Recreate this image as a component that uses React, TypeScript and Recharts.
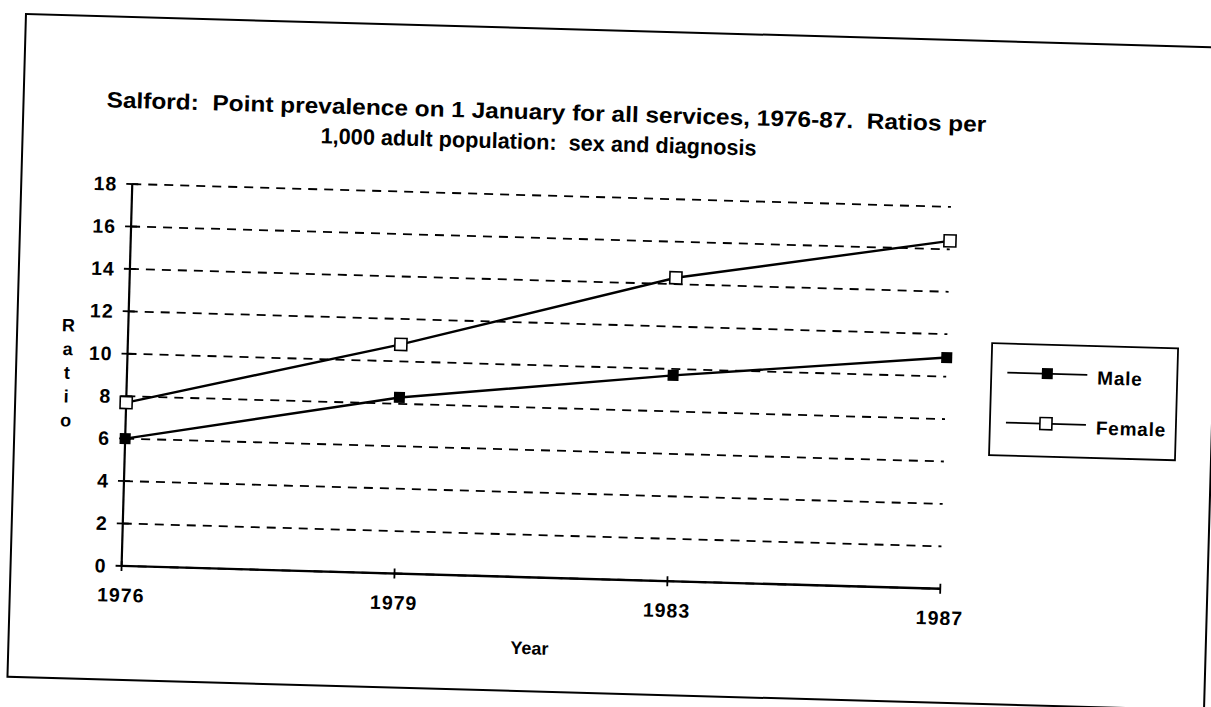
import React from "react"
import { LineChart, Line, XAxis, YAxis, CartesianGrid } from "recharts"

// Salford point prevalence, ratios per 1,000 adult population
const years = ["1976", "1979", "1983", "1987"]
const maleRatio = [6.0, 8.3, 9.7, 10.9]
const femaleRatio = [7.7, 10.8, 14.3, 16.4]
const seriesNames = ["Male", "Female"]
const yTicks = [0, 2, 4, 6, 8, 10, 12, 14, 16, 18]
const titleLines = [
  "Salford:  Point prevalence on 1 January for all services, 1976-87.  Ratios per",
  "1,000 adult population:  sex and diagnosis",
]
const yLabel = "Ratio"
const xLabel = "Year"

const data = years.map((year, i) => ({
  year,
  male: maleRatio[i],
  female: femaleRatio[i],
}))

const FONT = "'Liberation Sans', Arial, sans-serif"
const W = 1199
const H = 665

function YTick(props: any) {
  const { x, y, payload } = props
  return (
    <g>
      <line x1={x - 6} x2={x + 6} y1={y} y2={y} stroke="#000" strokeWidth={1.8} />
      <text
        x={x - 15}
        y={y}
        textAnchor="end"
        dominantBaseline="central"
        fontFamily={FONT}
        fontWeight="bold"
        fontSize={19.5}
        letterSpacing={1}
        fill="#000"
      >
        {payload.value}
      </text>
    </g>
  )
}

function XTick(props: any) {
  const { x, y, payload } = props
  return (
    <g>
      <line x1={x} x2={x} y1={y - 5} y2={y + 5} stroke="#000" strokeWidth={1.8} />
      <text
        x={x}
        y={y + 36}
        textAnchor="middle"
        fontFamily={FONT}
        fontWeight="bold"
        fontSize={19.5}
        letterSpacing={1}
        fill="#000"
      >
        {payload.value}
      </text>
    </g>
  )
}

function MaleDot(props: any) {
  const { cx, cy } = props
  if (cx == null || cy == null) return null
  return <rect x={cx - 5.5} y={cy - 5.5} width={11} height={11} fill="#000" />
}

function FemaleDot(props: any) {
  const { cx, cy } = props
  if (cx == null || cy == null) return null
  return (
    <rect x={cx - 6} y={cy - 6} width={12} height={12} fill="#fff" stroke="#000" strokeWidth={1.6} />
  )
}

export default function App() {
  const legendRows = [
    { name: seriesNames[0], y: 332, filled: true },
    { name: seriesNames[1], y: 382, filled: false },
  ]
  return (
    <div
      style={{
        position: "fixed",
        left: 0,
        top: 0,
        width: 1211,
        height: 707,
        background: "#fff",
        overflow: "hidden",
      }}
    >
      <div
        style={{
          position: "absolute",
          left: 25,
          top: 13,
          width: W,
          height: H,
          transform: "rotate(1.6deg)",
          transformOrigin: "0 0",
        }}
      >
        <div
          style={{
            position: "absolute",
            inset: 0,
            border: "2px solid #000",
            boxSizing: "border-box",
          }}
        />
        <div style={{ position: "absolute", left: 0, top: 0 }}>
          <LineChart
            width={W}
            height={H}
            data={data}
            margin={{ top: 168, right: 268, left: 52, bottom: 55 }}
          >
            <CartesianGrid
              vertical={false}
              horizontal
              stroke="#000"
              strokeWidth={1.8}
              strokeDasharray="9 7"
            />
            <XAxis
              dataKey="year"
              height={60}
              axisLine={{ stroke: "#000", strokeWidth: 2.4 }}
              tickLine={false}
              tickSize={0}
              tickMargin={0}
              tick={<XTick />}
              interval={0}
            />
            <YAxis
              width={60}
              domain={[0, 18]}
              ticks={yTicks}
              interval={0}
              axisLine={{ stroke: "#000", strokeWidth: 2.2 }}
              tickLine={false}
              tickSize={0}
              tickMargin={0}
              tick={<YTick />}
            />
            <Line
              dataKey="male"
              name={seriesNames[0]}
              type="linear"
              stroke="#000"
              strokeWidth={2.4}
              dot={<MaleDot />}
              activeDot={false}
              isAnimationActive={false}
            />
            <Line
              dataKey="female"
              name={seriesNames[1]}
              type="linear"
              stroke="#000"
              strokeWidth={2.4}
              dot={<FemaleDot />}
              activeDot={false}
              isAnimationActive={false}
            />
          </LineChart>
        </div>
        <svg
          width={W}
          height={H}
          style={{ position: "absolute", left: 0, top: 0, pointerEvents: "none" }}
        >
          <g fontFamily={FONT} fontWeight="bold" fill="#000">
            <text
              x={524}
              y={92}
              fontSize={22}
              textAnchor="middle"
              textLength={880}
              lengthAdjust="spacingAndGlyphs"
              xmlSpace="preserve"
            >
              {titleLines[0]}
            </text>
            <text
              x={517}
              y={122}
              fontSize={22}
              textAnchor="middle"
              textLength={436}
              lengthAdjust="spacingAndGlyphs"
              xmlSpace="preserve"
            >
              {titleLines[1]}
            </text>
            {yLabel.split("").map((ch, i) => (
              <text key={i} x={52} y={311 + i * 23.8} fontSize={18} textAnchor="middle" dominantBaseline="central">
                {ch}
              </text>
            ))}
            <text x={522} y={621} fontSize={18} textAnchor="middle" dominantBaseline="central">
              {xLabel}
            </text>
          </g>
          <rect x={976} y={303} width={186} height={112} fill="#fff" stroke="#000" strokeWidth={1.8} />
          {legendRows.map((r) => (
            <g key={r.name}>
              <line x1={992} x2={1072} y1={r.y} y2={r.y} stroke="#000" strokeWidth={1.8} />
              {r.filled ? (
                <rect x={1026.5} y={r.y - 5.5} width={11} height={11} fill="#000" />
              ) : (
                <rect x={1026} y={r.y - 6} width={12} height={12} fill="#fff" stroke="#000" strokeWidth={1.6} />
              )}
              <text
                x={1082}
                y={r.y + 3}
                fontFamily={FONT}
                fontWeight="bold"
                fontSize={19}
                letterSpacing={0.8}
                dominantBaseline="central"
                fill="#000"
              >
                {r.name}
              </text>
            </g>
          ))}
        </svg>
      </div>
    </div>
  )
}
